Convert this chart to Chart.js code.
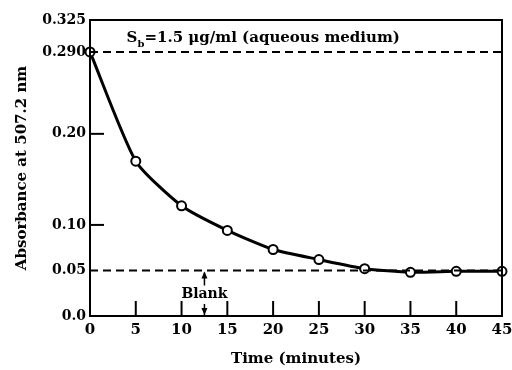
<!DOCTYPE html>
<html>
<head>
<meta charset="utf-8">
<script src="https://cdn.jsdelivr.net/npm/chart.js@4.4.1/dist/chart.umd.min.js"></script>
<style>
  html, body { margin: 0; padding: 0; background: #fff; }
  #wrap { width: 512px; height: 370px; }
</style>
</head>
<body>
<div id="wrap"><canvas id="mycanvas" width="512" height="370"></canvas></div>
<script>
// data
var times = [0, 5, 10, 15, 20, 25, 30, 35, 40, 45];
var absorbance = [0.290, 0.170, 0.121, 0.094, 0.073, 0.062, 0.052, 0.048, 0.049, 0.049];
var xTicks = [0, 5, 10, 15, 20, 25, 30, 35, 40, 45];
var yTicks = [0, 0.05, 0.10, 0.20, 0.290, 0.325];
var yTickLabels = ['0.0', '0.05', '0.10', '0.20', '0.290', '0.325'];
var initialLevel = 0.290;
var blankLevel = 0.05;
var blankTime = 12.5;
var noteText = '=1.5 \u03bcg/ml (aqueous medium)';

var FONT = '"DejaVu Serif", "Liberation Serif", serif';

var frame = {
    id: 'frame',
    afterDatasetsDraw: function (chart) {
        var ctx = chart.ctx, a = chart.chartArea;
        var xs = chart.scales.x, ys = chart.scales.y;
        ctx.save();
        ctx.strokeStyle = '#000';
        ctx.lineWidth = 2;
        ctx.strokeRect(a.left, a.top, a.right - a.left, a.bottom - a.top);

        // inner ticks
        xTicks.forEach(function (t) {
            if (t === 0 || t === 45) return;
            var px = xs.getPixelForValue(t);
            ctx.beginPath();
            ctx.moveTo(px, a.bottom);
            ctx.lineTo(px, a.bottom - 15);
            ctx.stroke();
        });
        [0.10, 0.20].forEach(function (v) {
            var py = ys.getPixelForValue(v);
            ctx.beginPath();
            ctx.moveTo(a.left, py);
            ctx.lineTo(a.left + 14, py);
            ctx.stroke();
        });

        // Blank marker
        var bx = xs.getPixelForValue(blankTime);
        var yTop = ys.getPixelForValue(blankLevel);
        var yBot = ys.getPixelForValue(0);
        ctx.lineWidth = 1.5;
        ctx.fillStyle = '#000';
        ctx.beginPath();
        ctx.moveTo(bx, yTop + 2); ctx.lineTo(bx, yTop + 15);
        ctx.moveTo(bx, yBot - 12); ctx.lineTo(bx, yBot - 1);
        ctx.stroke();
        ctx.beginPath();
        ctx.moveTo(bx, yTop + 1); ctx.lineTo(bx - 3, yTop + 8); ctx.lineTo(bx + 3, yTop + 8); ctx.closePath();
        ctx.moveTo(bx, yBot - 1); ctx.lineTo(bx - 3, yBot - 8); ctx.lineTo(bx + 3, yBot - 8); ctx.closePath();
        ctx.fill();
        ctx.font = 'bold 14px ' + FONT;
        ctx.textAlign = 'center';
        ctx.textBaseline = 'middle';
        ctx.fillText('Blank', bx, (yTop + yBot) / 2 + 1);

        // note at top
        var nx = xs.getPixelForValue(4.0);
        var ny = ys.getPixelForValue(0.305);
        ctx.textAlign = 'left';
        ctx.font = 'bold 15px ' + FONT;
        ctx.fillText('S', nx, ny);
        var w = ctx.measureText('S').width;
        ctx.font = 'bold 10px ' + FONT;
        ctx.fillText('b', nx + w, ny + 6);
        var w2 = ctx.measureText('b').width;
        ctx.font = 'bold 15px ' + FONT;
        ctx.fillText(noteText, nx + w + w2, ny);
        ctx.restore();
    }
};

var ctx = document.getElementById('mycanvas');
var chart = new Chart(ctx, {
    type: 'line',
    data: {
        datasets: [
            {
                data: [{x: 0, y: initialLevel}, {x: 45, y: initialLevel}],
                borderColor: '#000', borderWidth: 2, borderDash: [8, 5],
                pointRadius: 0, fill: false
            },
            {
                data: [{x: 0, y: blankLevel}, {x: 45, y: blankLevel}],
                borderColor: '#000', borderWidth: 2, borderDash: [8, 5],
                pointRadius: 0, fill: false
            },
            {
                data: times.map(function (t, i) { return {x: t, y: absorbance[i]}; }),
                borderColor: '#000', borderWidth: 3,
                tension: 0.2,
                pointRadius: 4.5, pointBorderWidth: 2,
                pointBackgroundColor: '#fff', pointBorderColor: '#000',
                clip: false, fill: false
            }
        ]
    },
    options: {
        responsive: false,
        animation: false,
        layout: { padding: { top: 20, right: 0, left: 10, bottom: 0 } },
        plugins: { legend: { display: false }, tooltip: { enabled: false } },
        scales: {
            x: {
                type: 'linear', min: 0, max: 45,
                afterBuildTicks: function (s) { s.ticks = xTicks.map(function (v) { return {value: v}; }); },
                afterFit: function (s) { s.paddingRight = 10; s.paddingLeft = 0; },
                grid: { display: false, drawTicks: false },
                border: { display: true, color: '#000', width: 2 },
                ticks: { color: '#000', padding: 5, font: { family: FONT, size: 15, weight: 'bold' } },
                title: { display: true, text: 'Time (minutes)', color: '#000', padding: { top: 6, bottom: 2 },
                         font: { family: FONT, size: 15, weight: 'bold' } }
            },
            y: {
                type: 'linear', min: 0, max: 0.325,
                afterBuildTicks: function (s) { s.ticks = yTicks.map(function (v) { return {value: v}; }); },
                afterFit: function (s) { s.width = 80; },
                grid: { display: false, drawTicks: false },
                border: { display: true, color: '#000', width: 2 },
                ticks: {
                    color: '#000', padding: 4, font: { family: FONT, size: 14, weight: 'bold' },
                    callback: function (v) { return yTickLabels[yTicks.indexOf(v)]; }
                },
                title: { display: true, text: 'Absorbance at 507.2 nm', color: '#000', padding: { top: 3, bottom: 4 },
                         font: { family: FONT, size: 15, weight: 'bold' } }
            }
        }
    },
    plugins: [frame]
});
</script>
</body>
</html>
